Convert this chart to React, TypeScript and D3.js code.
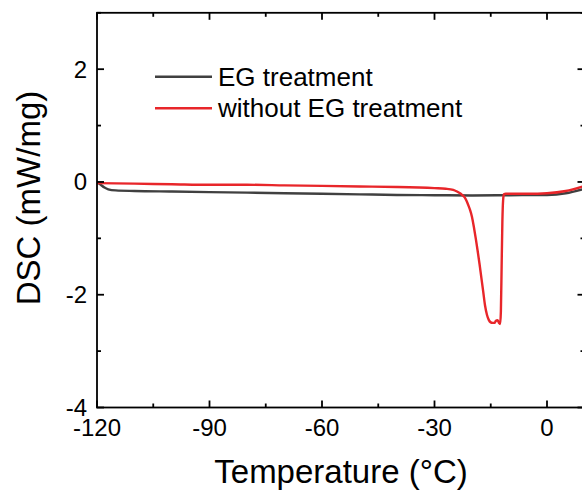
import React from "react";
import * as d3 from "d3";

const egTemp = [-120, -119, -118, -117, -115, -110, -100, -90, -80, -70, -60, -50, -40, -30, -20, -10, 0, 5, 10];
const egDsc = [0, -0.05, -0.1, -0.13, -0.15, -0.16, -0.17, -0.18, -0.19, -0.2, -0.21, -0.22, -0.23, -0.235, -0.24, -0.235, -0.23, -0.2, -0.12];

const noEgTemp = [-120, -110, -100, -90, -80, -70, -60, -50, -40, -30, -27, -25, -24, -23, -22, -21.5, -21, -20.5, -20, -19.5, -19, -18.5, -18, -17.5, -17, -16.5, -16, -15.5, -15, -14.5, -14, -13.6, -13.2, -12.8, -12.5, -12.3, -12.1, -11.9, -11.7, -11.5, -11, -10, -5, 0, 5, 10];
const noEgDsc = [-0.02, -0.03, -0.04, -0.05, -0.05, -0.06, -0.07, -0.08, -0.09, -0.11, -0.12, -0.14, -0.17, -0.21, -0.27, -0.33, -0.41, -0.5, -0.62, -0.8, -1.0, -1.22, -1.45, -1.7, -1.95, -2.2, -2.36, -2.45, -2.49, -2.5, -2.5, -2.46, -2.45, -2.5, -2.52, -2.3, -1.5, -0.7, -0.32, -0.22, -0.21, -0.21, -0.21, -0.2, -0.16, -0.07];

const xTicks = [-120, -90, -60, -30, 0];
const xMinor = [-105, -75, -45, -15];
const yTicks = [-4, -2, 0, 2];
const yMinor = [-3, -1, 1, 3];
const seriesNames = ["EG treatment", "without EG treatment"];
const seriesColors = ["#404040", "#e8262a"];

export default function App() {
  const W = 582, H = 495;
  const x = d3.scaleLinear().domain([-120, 10]).range([97, 584.5]);
  const y = d3.scaleLinear().domain([-4, 3]).range([407.5, 12.8]);
  const line = d3
    .line<[number, number]>()
    .x((d) => x(d[0]))
    .y((d) => y(d[1]))
    .curve(d3.curveMonotoneX);
  const egData = egTemp.map((t, i) => [t, egDsc[i]] as [number, number]);
  const noEgData = noEgTemp.map((t, i) => [t, noEgDsc[i]] as [number, number]);
  const [x0, x1] = x.range();
  const [y0, y1] = y.range();
  const font = "Arial, 'Liberation Sans', sans-serif";
  const major = 7, minor = 4;
  return (
    <svg width={W} height={H} style={{ position: "absolute", left: 0, top: 0 }} fontFamily={font}>
      <rect width={W} height={H} fill="#fff" />
      <defs>
        <clipPath id="plot">
          <rect x={x0} y={y1} width={x1 - x0} height={y0 - y1} />
        </clipPath>
      </defs>
      <g clipPath="url(#plot)" fill="none" strokeWidth={2.4} strokeLinejoin="round">
        <path d={line(egData) || ""} stroke={seriesColors[0]} />
        <path d={line(noEgData) || ""} stroke={seriesColors[1]} />
      </g>
      <g stroke="#000" strokeWidth={1.8}>
        <rect x={x0} y={y1} width={x1 - x0} height={y0 - y1} fill="none" />
        {xTicks.map((t) => (
          <g key={"xt" + t}>
            <line x1={x(t)} x2={x(t)} y1={y0} y2={y0 - major} />
            <line x1={x(t)} x2={x(t)} y1={y1} y2={y1 + major} />
          </g>
        ))}
        {xMinor.map((t) => (
          <g key={"xm" + t}>
            <line x1={x(t)} x2={x(t)} y1={y0} y2={y0 - minor} />
            <line x1={x(t)} x2={x(t)} y1={y1} y2={y1 + minor} />
          </g>
        ))}
        {yTicks.map((t) => (
          <g key={"yt" + t}>
            <line x1={x0} x2={x0 + major} y1={y(t)} y2={y(t)} />
            <line x1={x1} x2={x1 - major} y1={y(t)} y2={y(t)} />
          </g>
        ))}
        {yMinor.map((t) => (
          <g key={"ym" + t}>
            <line x1={x0} x2={x0 + minor} y1={y(t)} y2={y(t)} />
            <line x1={x1} x2={x1 - minor} y1={y(t)} y2={y(t)} />
          </g>
        ))}
      </g>
      <g fontSize={24} fill="#000">
        {xTicks.map((t) => (
          <text key={"xl" + t} x={x(t)} y={436} textAnchor="middle">
            {t}
          </text>
        ))}
        {yTicks.map((t) => (
          <text key={"yl" + t} x={87} y={y(t) + 8.5} textAnchor="end">
            {t}
          </text>
        ))}
      </g>
      <text x={341} y={483} fontSize={33} textAnchor="middle">
        Temperature (°C)
      </text>
      <text transform="translate(40,198) rotate(-90)" fontSize={33} textAnchor="middle">
        DSC (mW/mg)
      </text>
      <g>
        {seriesNames.map((n, i) => (
          <g key={n}>
            <line x1={155} x2={212} y1={76.7 + i * 31.5} y2={76.7 + i * 31.5} stroke={seriesColors[i]} strokeWidth={2.4} />
            <text x={218} y={76.7 + i * 31.5 + 9} fontSize={26}>
              {n}
            </text>
          </g>
        ))}
      </g>
    </svg>
  );
}
